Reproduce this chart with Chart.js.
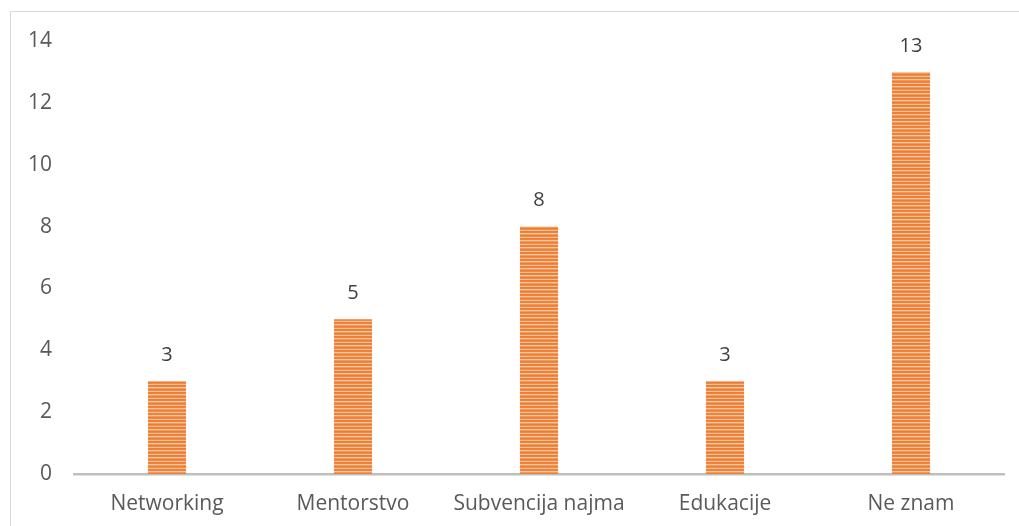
<!DOCTYPE html>
<html>
<head>
<meta charset="utf-8">
<script src="https://cdn.jsdelivr.net/npm/chart.js@4"></script>
<style>
  html, body { margin: 0; padding: 0; background: #fff; }
  #wrap { position: absolute; left: 0; top: 0; width: 1019px; height: 526px; }
  #frame { position: absolute; left: 10px; top: 11px; width: 1020px; height: 530px; border: 1px solid #d9d9d9; box-sizing: border-box; }
</style>
</head>
<body>
<div id="wrap">
  <div id="frame"></div>
  <canvas id="myChart" width="1019" height="526"></canvas>
</div>
<script>
const categories = ['Networking', 'Mentorstvo', 'Subvencija najma', 'Edukacije', 'Ne znam'];
const values = [3, 5, 8, 3, 13];
const yTicks = [0, 2, 4, 6, 8, 10, 12, 14];

// horizontal stripe fill like the original
function stripes() {
    const c = document.createElement('canvas');
    c.width = 4;
    c.height = 7;
    const g = c.getContext('2d');
    const rows = ['#ED7D31', '#EF8440', '#F9C7A2', '#F29A5C', '#ED7D31', '#F08A48', '#F8C19A'];
    rows.forEach(function (col, i) {
        g.fillStyle = col;
        g.fillRect(0, i, 4, 1);
    });
    return g.createPattern(c, 'repeat');
}

const valueLabels = {
    id: 'valueLabels',
    afterDatasetsDraw(chart) {
        const ctx = chart.ctx;
        const meta = chart.getDatasetMeta(0);
        ctx.save();
        ctx.font = '20px "Open Sans", sans-serif';
        ctx.fillStyle = '#404040';
        ctx.textAlign = 'center';
        ctx.textBaseline = 'middle';
        meta.data.forEach(function (bar, i) {
            ctx.fillText(values[i], bar.x, bar.y - 26);
        });
        ctx.restore();
    }
};

const ctx = document.getElementById('myChart').getContext('2d');
const myChart = new Chart(ctx, {
    type: 'bar',
    data: {
        labels: categories,
        datasets: [{
            data: values,
            backgroundColor: stripes(),
            borderWidth: 0,
            categoryPercentage: 1,
            barPercentage: 0.205
        }]
    },
    options: {
        responsive: false,
        animation: false,
        layout: {
            padding: { left: 10, right: 15, top: 41, bottom: 0 }
        },
        plugins: {
            legend: { display: false },
            tooltip: { enabled: false }
        },
        scales: {
            x: {
                grid: { display: false, drawTicks: false },
                border: { display: true, color: '#BFBFBF', width: 2.5 },
                ticks: {
                    color: '#595959',
                    font: { family: '"Open Sans", sans-serif', size: 21 },
                    padding: 17,
                    maxRotation: 0
                },
                afterFit(scale) { scale.height = 52; }
            },
            y: {
                min: 0,
                max: 14,
                grid: { display: false, drawTicks: false },
                border: { display: false },
                afterBuildTicks(scale) {
                    scale.ticks = yTicks.map(function (v) { return { value: v }; });
                },
                ticks: {
                    color: '#595959',
                    font: { family: '"Open Sans", sans-serif', size: 21 },
                    padding: 22
                },
                afterFit(scale) { scale.width = 64; }
            }
        }
    },
    plugins: [valueLabels]
});
</script>
</body>
</html>
